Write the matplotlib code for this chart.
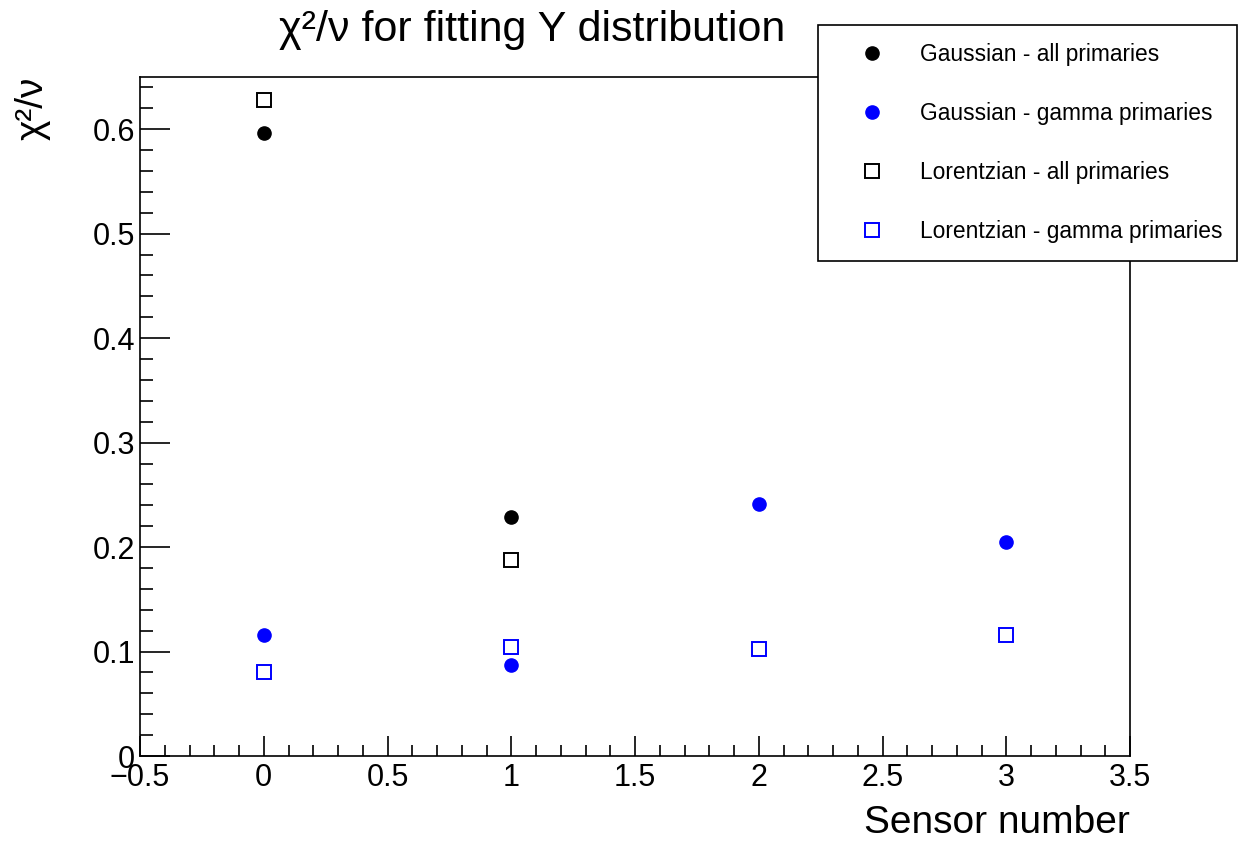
import numpy as np
import matplotlib
matplotlib.use("Agg")
import matplotlib.pyplot as plt
from matplotlib.ticker import MultipleLocator, FuncFormatter

plt.rcParams['font.family'] = ['Liberation Sans', 'DejaVu Sans']

# data
sensors_all = [0, 1]
gaus_all = [0.596, 0.229]
lor_all = [0.628, 0.188]

sensors_gamma = [0, 1, 2, 3]
gaus_gamma = [0.116, 0.087, 0.241, 0.205]
lor_gamma = [0.080, 0.104, 0.102, 0.116]

labels = ["Gaussian - all primaries", "Gaussian - gamma primaries",
          "Lorentzian - all primaries", "Lorentzian - gamma primaries"]

fig = plt.figure(figsize=(12.39, 8.42), dpi=100)
ax = fig.add_axes([140/1239, 1-756/842, 990/1239, 679/842])

blue = (0, 0, 1)
h1, = ax.plot(sensors_all, gaus_all, "o", color="black", ms=9.5, ls="none", label=labels[0])
h2, = ax.plot(sensors_gamma, gaus_gamma, "o", color=blue, ms=9.5, ls="none", label=labels[1])
h3, = ax.plot(sensors_all, lor_all, "s", mfc="none", mec="black", mew=1.4, ms=10.5, ls="none", label=labels[2])
h4, = ax.plot(sensors_gamma, lor_gamma, "s", mfc="none", mec=blue, mew=1.4, ms=10.5, ls="none", label=labels[3])

ax.set_xlim(-0.5, 3.5)
ax.set_ylim(0, 0.65)

fmt = FuncFormatter(lambda v, p: ("%g" % v).replace("-", "\u2212"))
ax.xaxis.set_major_locator(MultipleLocator(0.5))
ax.xaxis.set_minor_locator(MultipleLocator(0.1))
ax.yaxis.set_major_locator(MultipleLocator(0.1))
ax.yaxis.set_minor_locator(MultipleLocator(0.02))
ax.xaxis.set_major_formatter(fmt)
ax.yaxis.set_major_formatter(fmt)

ax.tick_params(axis="both", which="both", direction="in", top=False, right=False, labelsize=22, width=1.2)
ax.tick_params(axis="x", which="major", length=14.5, pad=5)
ax.tick_params(axis="x", which="minor", length=8)
ax.tick_params(axis="y", which="major", length=21.5, pad=3.5)
ax.tick_params(axis="y", which="minor", length=9.5)
for s in ax.spines.values():
    s.set_linewidth(1.2)

ax.set_xlabel("Sensor number", fontsize=28, loc="right", labelpad=9)
ax.set_ylabel("\u03c7\u00b2/\u03bd", fontsize=28, loc="top", labelpad=30)
ax.set_title("\u03c7\u00b2/\u03bd for fitting Y distribution", fontsize=31, x=0.396, pad=26)

leg = fig.legend(handles=[h1, h2, h3, h4], loc="upper left",
                 bbox_to_anchor=(818/1239, 1-261/842, 419/1239, 236/842), mode="expand",
                 fontsize=16.4, frameon=True, fancybox=False, shadow=False,
                 borderpad=0.8, labelspacing=1.57, handlelength=3.1, handletextpad=0.6,
                 borderaxespad=0, numpoints=1)
leg.get_frame().set_edgecolor("black")
leg.get_frame().set_linewidth(1.2)
leg.get_frame().set_alpha(1)

fig.savefig("out.png", dpi=100)
